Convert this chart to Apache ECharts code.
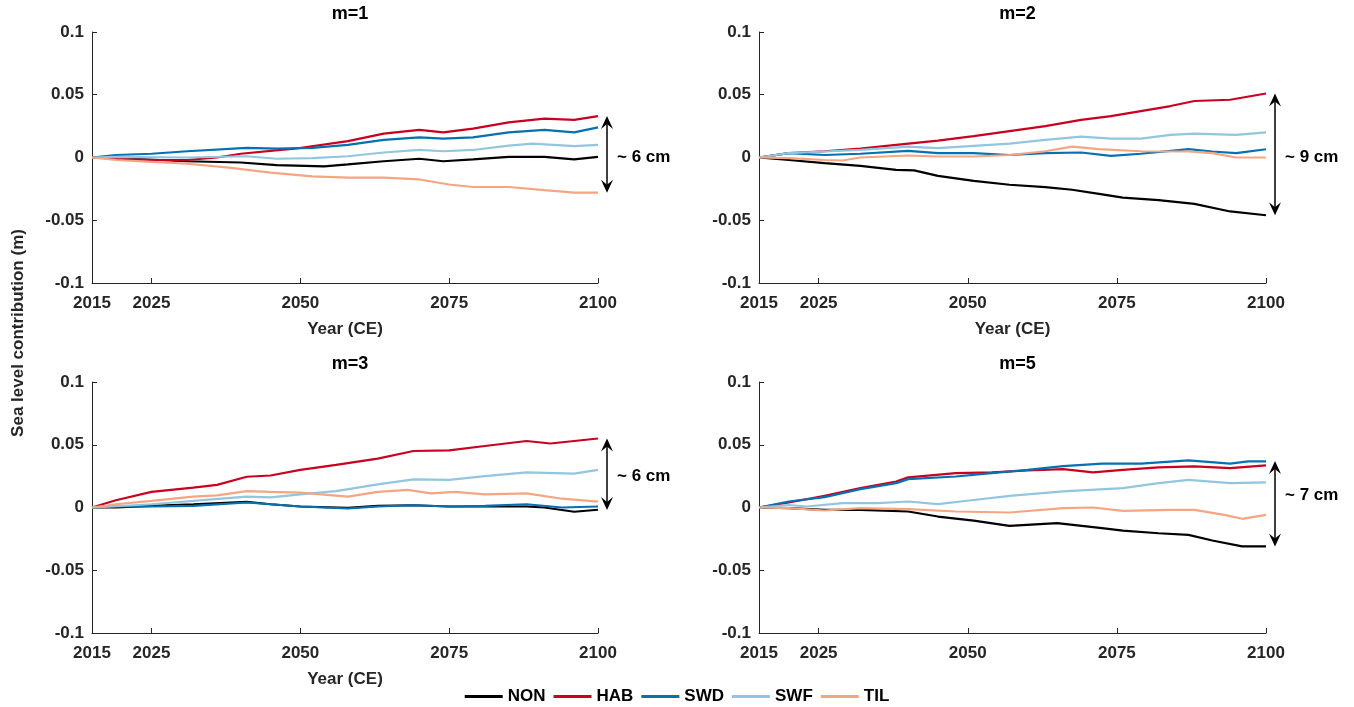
<!DOCTYPE html>
<html><head><meta charset="utf-8">
<script src="https://cdn.jsdelivr.net/npm/echarts@6/dist/echarts.min.js"></script>
<style>html,body{margin:0;padding:0;background:#fff}#c{width:1354px;height:707px}</style>
</head><body><div id="c"></div>
<script>
const seriesNames = ['NON','HAB','SWD','SWF','TIL'];
const seriesColors = ['#000000','#ca0020','#0571b0','#92c5de','#f4a582'];
const panelTitles = ['m=1','m=2','m=3','m=5'];
const xTicks = [2015, 2025, 2050, 2075, 2100];
const spreadLabels = ['~ 6 cm','~ 9 cm','~ 6 cm','~ 7 cm'];
// arrow spans [top, bottom] and label value per panel
const spreadTop = [0.033, 0.051, 0.055, 0.037];
const spreadBottom = [-0.028, -0.046, -0.002, -0.031];
const spreadLabelValue = [0.0, 0.0, 0.025, 0.01];

// m=1
const m1_NON = [[2015,0],[2019,-0.0005],[2031,-0.003],[2040,-0.004],[2046,-0.006],[2054,-0.007],[2058,-0.0055],[2064,-0.003],[2070,-0.001],[2074,-0.003],[2079,-0.0015],[2085,0.0005],[2091,0.0005],[2096,-0.0015],[2100,0.0005]];
const m1_HAB = [[2015,0],[2019,-0.001],[2025,-0.002],[2031,-0.002],[2036,0],[2040,0.003],[2049,0.007],[2058,0.013],[2064,0.019],[2070,0.022],[2074,0.020],[2079,0.023],[2085,0.028],[2091,0.031],[2096,0.030],[2100,0.033]];
const m1_SWD = [[2015,0],[2019,0.002],[2025,0.003],[2031,0.005],[2041,0.0076],[2046,0.007],[2052,0.0076],[2058,0.010],[2064,0.014],[2070,0.016],[2074,0.015],[2079,0.016],[2085,0.020],[2091,0.022],[2096,0.020],[2100,0.024]];
const m1_SWF = [[2015,0],[2019,0.0005],[2031,0],[2041,0.001],[2046,-0.001],[2052,-0.0005],[2058,0.001],[2064,0.004],[2070,0.006],[2074,0.005],[2079,0.006],[2085,0.0095],[2089,0.011],[2096,0.009],[2100,0.010]];
const m1_TIL = [[2015,0],[2019,-0.002],[2025,-0.0035],[2031,-0.005],[2038,-0.008],[2045,-0.012],[2052,-0.015],[2058,-0.016],[2064,-0.016],[2070,-0.0175],[2075,-0.0215],[2079,-0.0235],[2085,-0.0235],[2091,-0.026],[2096,-0.028],[2100,-0.028]];
// m=2
const m2_NON = [[2015,0],[2020,-0.002],[2026,-0.0045],[2032,-0.0066],[2038,-0.0098],[2041,-0.0103],[2045,-0.0146],[2051,-0.0186],[2057,-0.0217],[2063,-0.0236],[2067.5,-0.0257],[2072,-0.029],[2076,-0.032],[2082,-0.034],[2088,-0.037],[2094,-0.043],[2100,-0.046]];
const m2_HAB = [[2015,0],[2020,0.0035],[2026,0.005],[2032,0.007],[2038,0.010],[2045,0.0135],[2051,0.017],[2057,0.021],[2063,0.025],[2069,0.030],[2074,0.033],[2079,0.037],[2084,0.041],[2088,0.045],[2094,0.046],[2100,0.051]];
const m2_SWD = [[2015,0],[2020,0.0035],[2026,0.002],[2032,0.003],[2040,0.0053],[2045,0.0035],[2051,0.0035],[2057,0.002],[2063,0.0035],[2069,0.004],[2074,0.0013],[2079,0.003],[2087,0.0066],[2091,0.0048],[2095,0.0035],[2100,0.0066]];
const m2_SWF = [[2015,0],[2020,0.0035],[2026,0.0048],[2032,0.006],[2040,0.0087],[2045,0.0074],[2051,0.0093],[2057,0.011],[2063,0.014],[2069,0.0167],[2074,0.015],[2079,0.015],[2084,0.018],[2088,0.019],[2095,0.018],[2100,0.020]];
const m2_TIL = [[2015,0],[2020,-0.0005],[2026,-0.002],[2029,-0.0024],[2032,0],[2040,0.0016],[2045,0.0008],[2051,0.0008],[2057,0.002],[2063,0.005],[2067.5,0.0087],[2072,0.0066],[2079,0.005],[2087,0.0048],[2091,0.0035],[2095,0],[2100,0]];
// m=3
const m3_NON = [[2015,0],[2019,0],[2025,0.0013],[2032,0.0026],[2041,0.0045],[2045,0.0026],[2050,0.0008],[2058,-0.0003],[2063,0.0013],[2069,0.0018],[2075,0.0008],[2081,0.0008],[2088,0.0008],[2091,0],[2096,-0.0034],[2100,-0.0018]];
const m3_HAB = [[2015,0],[2019,0.0058],[2025,0.0124],[2032,0.0158],[2036,0.018],[2041,0.0245],[2045,0.0255],[2050,0.030],[2056,0.034],[2063,0.039],[2069,0.045],[2075,0.0455],[2081,0.049],[2088,0.053],[2092,0.051],[2096,0.053],[2100,0.055]];
const m3_SWD = [[2015,0],[2019,0.0008],[2025,0.0008],[2032,0.0013],[2041,0.004],[2045,0.0026],[2050,0.0008],[2058,-0.0008],[2063,0.0008],[2069,0.0018],[2075,0.0008],[2081,0.0013],[2088,0.0026],[2094,0],[2100,0.0008]];
const m3_SWF = [[2015,0],[2019,0.001],[2025,0.0026],[2032,0.0053],[2041,0.0087],[2045,0.008],[2050,0.0105],[2056,0.013],[2063,0.0184],[2069,0.0224],[2075,0.022],[2081,0.025],[2088,0.028],[2096,0.027],[2100,0.030]];
const m3_TIL = [[2015,0],[2019,0.0026],[2025,0.0053],[2032,0.0087],[2036,0.0097],[2041,0.013],[2045,0.0124],[2050,0.0118],[2058,0.0087],[2063,0.0124],[2068,0.014],[2072,0.0113],[2076,0.0124],[2081,0.0105],[2088,0.0113],[2094,0.007],[2100,0.0047]];
// m=5
const m5_NON = [[2015,0],[2020,-0.0005],[2026,-0.0019],[2032,-0.0019],[2040,-0.0032],[2045,-0.0072],[2051,-0.0104],[2057,-0.0146],[2065,-0.0125],[2072.5,-0.0165],[2076,-0.0184],[2082,-0.0205],[2087,-0.0218],[2091,-0.0263],[2096,-0.031],[2100,-0.031]];
const m5_HAB = [[2015,0],[2020,0.004],[2026,0.0093],[2032,0.0154],[2038,0.0207],[2040,0.024],[2048,0.0274],[2054,0.028],[2060,0.0295],[2066,0.0306],[2071,0.028],[2076,0.030],[2082,0.032],[2088,0.0327],[2094,0.0314],[2100,0.0335]];
const m5_SWD = [[2015,0],[2020,0.0048],[2026,0.0082],[2032,0.0146],[2038,0.0194],[2040,0.0226],[2048,0.0247],[2054,0.0274],[2060,0.030],[2066,0.033],[2072.5,0.035],[2079,0.035],[2087,0.0375],[2094,0.035],[2097,0.0367],[2100,0.0367]];
const m5_SWF = [[2015,0],[2020,0.002],[2023,0.0008],[2029,0.0035],[2035,0.0035],[2040,0.0048],[2045,0.0027],[2051,0.006],[2057,0.0093],[2066,0.0128],[2076,0.0154],[2082,0.0194],[2087,0.022],[2094,0.0194],[2100,0.020]];
const m5_TIL = [[2015,0],[2020,-0.0005],[2026,-0.0024],[2032,-0.0005],[2040,-0.0013],[2048,-0.0032],[2057,-0.004],[2066,-0.0005],[2071,0],[2076,-0.0027],[2084,-0.0019],[2088,-0.0019],[2093,-0.0059],[2096,-0.009],[2100,-0.0059]];

const panels = [
  [m1_NON,m1_HAB,m1_SWD,m1_SWF,m1_TIL],
  [m2_NON,m2_HAB,m2_SWD,m2_SWF,m2_TIL],
  [m3_NON,m3_HAB,m3_SWD,m3_SWF,m3_TIL],
  [m5_NON,m5_HAB,m5_SWD,m5_SWF,m5_TIL]
];

const FONT = '"Liberation Sans", Arial, Helvetica, sans-serif';
const TXT = '#262626';
const gridPos = [
  {left:92, top:32, width:506, height:251},
  {left:759, top:32, width:507, height:251},
  {left:92, top:382, width:506, height:251},
  {left:759, top:382, width:507, height:251}
];
const showXName = [true, true, true, false];

const chart = echarts.init(document.getElementById('c'), null, {renderer:'canvas'});
const option = {
  backgroundColor:'#fff',
  animation:false,
  title: panelTitles.map((t,i)=>({
    text:t, left: gridPos[i].left + gridPos[i].width/2, top: gridPos[i].top - 32, textAlign:'center',
    textStyle:{fontFamily:FONT, fontWeight:'bold', fontSize:18, color:'#000'}
  })),
  grid: gridPos.map(g=>Object.assign({containLabel:false}, g)),
  xAxis: gridPos.map((g,i)=>({
    type:'value', gridIndex:i, min:2015, max:2100,
    name: showXName[i] ? 'Year (CE)' : '', nameLocation:'middle', nameGap:38,
    nameTextStyle:{fontFamily:FONT, fontWeight:'bold', fontSize:17, color:TXT},
    axisLine:{show:true, onZero:false, lineStyle:{color:TXT, width:1}},
    axisTick:{show:true, inside:true, length:5, customValues:xTicks, lineStyle:{color:TXT}},
    axisLabel:{customValues:xTicks, margin:12, fontFamily:FONT, fontWeight:'bold', fontSize:17, color:TXT,
      formatter: v => String(Math.round(v))},
    splitLine:{show:false}
  })),
  yAxis: gridPos.map((g,i)=>({
    type:'value', gridIndex:i, min:-0.1, max:0.1, interval:0.05,
    axisLine:{show:true, onZero:false, lineStyle:{color:TXT, width:1}},
    axisTick:{show:true, inside:true, length:5, lineStyle:{color:TXT}},
    axisLabel:{margin:8, fontFamily:FONT, fontWeight:'bold', fontSize:17, color:TXT,
      formatter: v => String(+(+v).toFixed(2))},
    splitLine:{show:false}
  })),
  legend:{
    top: 683, left:'center', itemWidth:38, itemHeight:3, itemGap:8, icon:'rect',
    data: seriesNames,
    textStyle:{fontFamily:FONT, fontWeight:'bold', fontSize:17, color:'#000'}
  },
  series: []
};
panels.forEach((p,i)=>{
  p.forEach((d,k)=>{
    option.series.push({
      name: seriesNames[k], type:'line', xAxisIndex:i, yAxisIndex:i,
      data:d, showSymbol:false, symbol:'none',
      lineStyle:{color:seriesColors[k], width:2.2}, itemStyle:{color:seriesColors[k]},
      z: 2 + k
    });
  });
});
chart.setOption(option);

// annotations: double arrow + spread label, positioned via the axes' own scales
const gfx = [];
gridPos.forEach((g,i)=>{
  const pTop = chart.convertToPixel({gridIndex:i}, [2100, spreadTop[i]]);
  const pBot = chart.convertToPixel({gridIndex:i}, [2100, spreadBottom[i]]);
  const pLab = chart.convertToPixel({gridIndex:i}, [2100, spreadLabelValue[i]]);
  const x = pTop[0] + 9;
  const y1 = pTop[1], y2 = pBot[1];
  gfx.push({type:'line', shape:{x1:x, y1:y1+3, x2:x, y2:y2-3}, style:{stroke:'#000', lineWidth:1.5}, z:10});
  gfx.push({type:'polygon', shape:{points:[[x,y1],[x-6,y1+13],[x,y1+8],[x+6,y1+13]]}, style:{fill:'#000'}, z:10});
  gfx.push({type:'polygon', shape:{points:[[x,y2],[x-6,y2-13],[x,y2-8],[x+6,y2-13]]}, style:{fill:'#000'}, z:10});
  gfx.push({type:'text', x:x+10, y:pLab[1], style:{text:spreadLabels[i], fill:'#000', font:'bold 17px '+FONT, textVerticalAlign:'middle', verticalAlign:'middle'}, z:10});
});
gfx.push({type:'text', x:18, y:333, rotation:Math.PI/2, style:{text:'Sea level contribution (m)', fill:TXT, font:'bold 17px '+FONT, textAlign:'center', align:'center', verticalAlign:'middle', textVerticalAlign:'middle'}, z:10});
chart.setOption({graphic: gfx});
</script>
</body></html>
